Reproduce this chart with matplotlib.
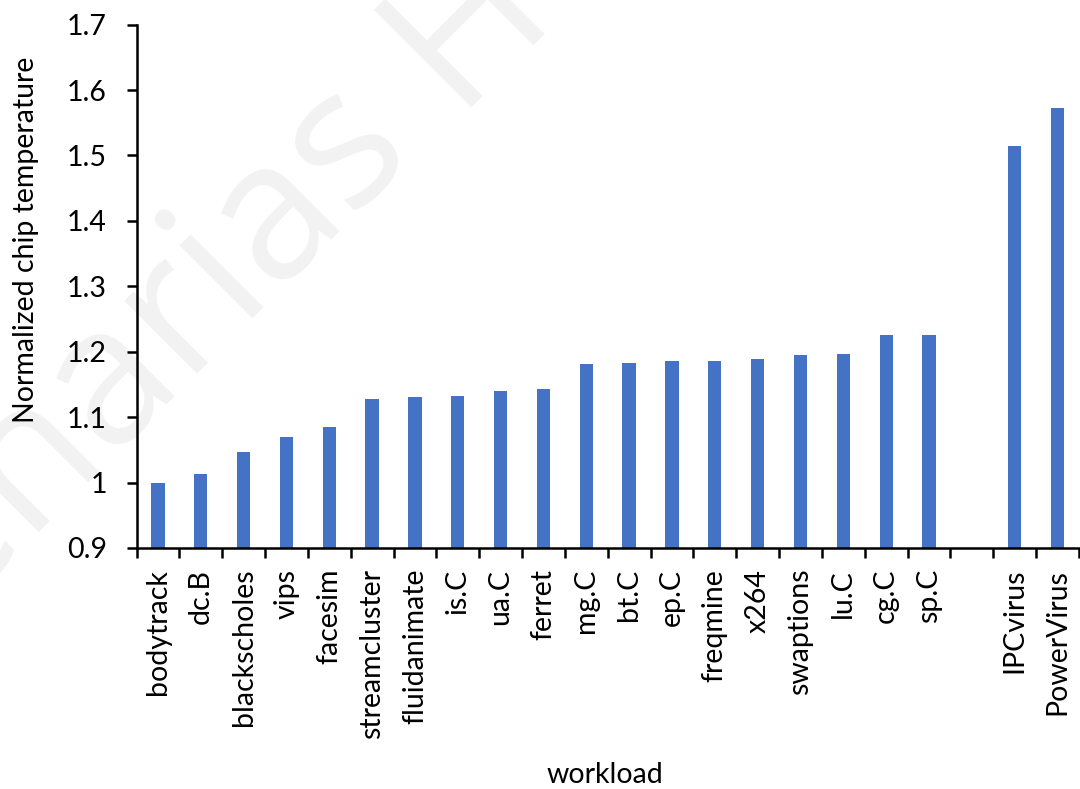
import numpy as np
import matplotlib
matplotlib.use('Agg')
import matplotlib.pyplot as plt
from matplotlib.ticker import FuncFormatter

# workloads sorted by temperature; the blank slot separates the power viruses
workloads = ['bodytrack', 'dc.B', 'blackscholes', 'vips', 'facesim', 'streamcluster',
             'fluidanimate', 'is.C', 'ua.C', 'ferret', 'mg.C', 'bt.C', 'ep.C',
             'freqmine', 'x264', 'swaptions', 'lu.C', 'cg.C', 'sp.C', '',
             'IPCvirus', 'PowerVirus']
temps = [1.000, 1.013, 1.047, 1.069, 1.085, 1.127, 1.131, 1.132, 1.140, 1.143,
         1.181, 1.183, 1.186, 1.186, 1.189, 1.195, 1.197, 1.225, 1.226, np.nan,
         1.515, 1.572]
y_ticks = [0.9, 1.0, 1.1, 1.2, 1.3, 1.4, 1.5, 1.6, 1.7]

BAR_COLOR = '#4472C4'
FONT_SIZE = 20.5

plt.rcParams['font.family'] = ['Lato', 'DejaVu Sans']

W, H = 1080, 789
fig = plt.figure(figsize=(W / 100, H / 100), dpi=100, facecolor='white')
ax = fig.add_axes([136.5 / W, 1 - 548 / H, 1 - 136.5 / W - 0.001, (548 - 24.6) / H])
ax.set_facecolor('none')

# faint diagonal watermark behind the plot
wm_kw = dict(fontsize=138, color='#f2f2f2', rotation=45, rotation_mode='anchor',
             va='baseline', family='Open Sans', zorder=-5)
hx, hy = 453 / W, 1 - 108 / H
gap = 40
fig.text(hx - gap / W, hy - gap / H, 'enarias', ha='right', **wm_kw)
fig.text(hx, hy, 'He', ha='left', **wm_kw)

x = np.arange(len(workloads))
ax.bar(x, temps, width=0.31, color=BAR_COLOR, zorder=2)

ax.set_xlim(-0.5, len(workloads) - 0.5)
ax.set_ylim(0.9, 1.7)
ax.set_yticks(y_ticks)
ax.yaxis.set_major_formatter(FuncFormatter(lambda v, _: f'{v:g}'))

ax.set_xticks(x)
ax.set_xticklabels(workloads, rotation=90, va='top')
ax.set_xticks(np.arange(len(workloads) + 1) - 0.5, minor=True)

ax.tick_params(axis='x', which='major', length=0, pad=15, labelsize=FONT_SIZE)
ax.tick_params(axis='x', which='minor', length=7.2, width=1.8, direction='out')
ax.tick_params(axis='y', length=7.2, width=1.8, pad=14, labelsize=FONT_SIZE)

for side in ['top', 'right']:
    ax.spines[side].set_visible(False)
for side in ['left', 'bottom']:
    ax.spines[side].set_linewidth(1.8)
    ax.spines[side].set_color('black')

ax.set_ylabel('Normalized chip temperature', fontsize=FONT_SIZE, va='center')
ax.yaxis.set_label_coords(-0.117, 0.588)
ax.set_xlabel('workload', fontsize=FONT_SIZE, va='baseline')
ax.xaxis.set_label_coords(0.4966, -0.4485)

fig.savefig('out.png', dpi=100, facecolor='white')
